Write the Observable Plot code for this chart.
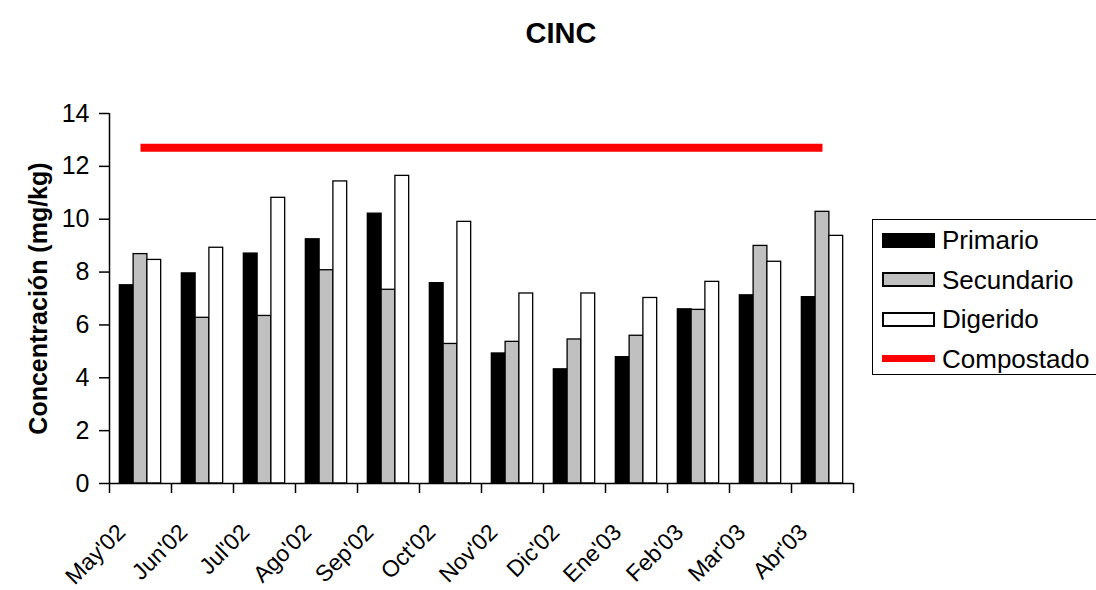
<!DOCTYPE html>
<html>
<head>
<meta charset="utf-8">
<script src="https://cdn.jsdelivr.net/npm/d3@7"></script>
<script src="https://cdn.jsdelivr.net/npm/@observablehq/plot@0.6"></script>
<style>
  html, body { margin: 0; padding: 0; background: #fff; }
  #wrap { position: relative; width: 1096px; height: 590px; overflow: hidden; font-family: "Liberation Sans", Arial, sans-serif; color: #000; }
  #title { position: absolute; left: 561px; top: 17px; transform: translateX(-50%); font-size: 29px; font-weight: bold; line-height: 32px; white-space: nowrap; }
  #legend { position: absolute; left: 872px; top: 219px; width: 230px; height: 156px; border: 1.5px solid #000; box-sizing: border-box; background: #fff; }
  .row { position: absolute; left: 0; height: 40px; font-size: 26px; white-space: nowrap; }
  .sw { position: absolute; left: 9px; width: 53px; box-sizing: border-box; }
  .lbl { position: absolute; left: 69px; line-height: 30px; }
  #chart { position: absolute; left: 0; top: 0; }
</style>
</head>
<body>
<div id="wrap">
  <div id="chart"></div>
  <div id="title"></div>
  <div id="legend"></div>
</div>
<script>
const title = "CINC";
const yLabel = "Concentración (mg/kg)";
const months = ["May'02", "Jun'02", "Jul'02", "Ago'02", "Sep'02", "Oct'02", "Nov'02", "Dic'02", "Ene'03", "Feb'03", "Mar'03", "Abr'03"];
const series = ["Primario", "Secundario", "Digerido"];
const primario   = [7.50, 7.95, 8.70, 9.24, 10.21, 7.58, 4.92, 4.32, 4.78, 6.59, 7.12, 7.05];
const secundario = [8.68, 6.27, 6.34, 8.07, 7.33, 5.28, 5.36, 5.45, 5.59, 6.57, 8.99, 10.28];
const digerido   = [8.46, 8.92, 10.81, 11.43, 11.64, 9.90, 7.19, 7.19, 7.02, 7.63, 8.39, 9.37];
const compostado = [12.7, 12.7, 12.7, 12.7, 12.7, 12.7, 12.7, 12.7, 12.7, 12.7, 12.7, 12.7];
const lineName = "Compostado";
const yTicks = [0, 2, 4, 6, 8, 10, 12, 14];

const fills = ["#000000", "#C0C0C0", "#FFFFFF"];
const values = [primario, secundario, digerido];
const w = 2 / 9; // bar width in category units (gap width 50%)

const rows = [];
months.forEach((m, i) => {
  values.forEach((arr, k) => {
    rows.push({ i, k, series: series[k], value: arr[i], x1: i + 0.5 - 1.5 * w + k * w, x2: i + 0.5 - 1.5 * w + (k + 1) * w });
  });
});
const lineRows = compostado.map((v, i) => ({ x: i + 0.5, y: v }));
const monthRows = months.map((m, i) => ({ i, m }));

const chart = Plot.plot({
  width: 1096,
  height: 590,
  marginLeft: 109,
  marginRight: 243,
  marginTop: 113,
  marginBottom: 107,
  style: { fontFamily: "Liberation Sans, Arial, sans-serif", fontSize: "24px", color: "#000", background: "#fff", overflow: "visible" },
  x: { type: "linear", domain: [0, months.length] },
  y: { domain: [0, 14] },
  marks: [
    Plot.rectY(rows, { x1: "x1", x2: "x2", y1: 0, y2: "value", fill: d => fills[d.k], stroke: "#000", strokeWidth: 1.3 }),
    Plot.line(lineRows, { x: "x", y: "y", stroke: "#FF0000", strokeWidth: 8, strokeLinecap: "butt" }),
    Plot.ruleX([0], { y1: 0, y2: 14, stroke: "#000", strokeWidth: 1.5 }),
    Plot.ruleY([0], { x1: 0, x2: months.length, stroke: "#000", strokeWidth: 1.5 }),
    Plot.axisY({ ticks: yTicks, tickSize: 10, tickPadding: 10, label: null, fontSize: 25, strokeWidth: 1.5 }),
    Plot.axisX({ ticks: d3.range(months.length + 1), tickFormat: () => "", tickSize: 10, label: null, strokeWidth: 1.5 }),
    Plot.text(monthRows, { x: "i", text: "m", frameAnchor: "bottom", rotate: -45, textAnchor: "end", lineAnchor: "middle", dx: 12, dy: 45, fontSize: 23 }),
    Plot.text([yLabel], { frameAnchor: "left", rotate: -90, textAnchor: "middle", dx: -71, fontWeight: "bold", fontSize: 25, text: d => d })
  ]
});
document.getElementById("chart").appendChild(chart);
document.getElementById("title").textContent = title;

const legend = document.getElementById("legend");
const items = series.map((s, k) => ({ name: s, kind: "bar", fill: fills[k] })).concat([{ name: lineName, kind: "line", fill: "#FF0000" }]);
items.forEach((it, j) => {
  const row = document.createElement("div");
  row.className = "row";
  row.style.top = (j * 39.5) + "px";
  row.style.width = "230px";
  const sw = document.createElement("div");
  sw.className = "sw";
  if (it.kind === "bar") {
    sw.style.height = "15px";
    sw.style.top = "12.5px";
    sw.style.background = it.fill;
    sw.style.border = "2px solid #000";
  } else {
    sw.style.height = "7px";
    sw.style.top = "16.5px";
    sw.style.background = it.fill;
  }
  const lb = document.createElement("div");
  lb.className = "lbl";
  lb.style.top = "5px";
  lb.textContent = it.name;
  row.appendChild(sw);
  row.appendChild(lb);
  legend.appendChild(row);
});
</script>
</body>
</html>
